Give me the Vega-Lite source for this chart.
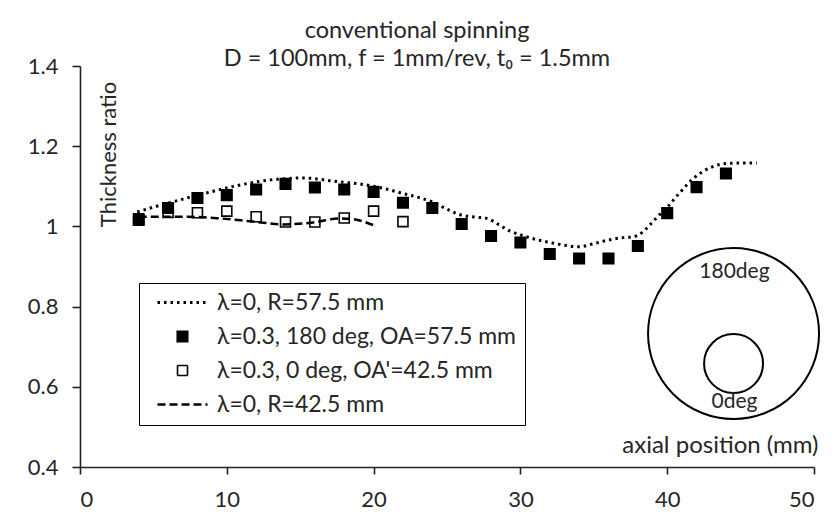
{
  "$schema": "https://vega.github.io/schema/vega-lite/v6.json",
  "width": 734,
  "height": 401,
  "autosize": {"type": "none"},
  "padding": {"left": 80, "top": 66, "right": 26, "bottom": 49},
  "background": "white",
  "config": {
    "view": {"stroke": null},
    "font": "Lato",
    "axis": {
      "grid": false,
      "domainColor": "#222222",
      "domainWidth": 1.6,
      "tickColor": "#222222",
      "tickWidth": 1.6,
      "tickSize": 7,
      "labelFont": "Lato",
      "labelFontSize": 22,
      "labelColor": "#262626",
      "titleFont": "Lato",
      "titleFontSize": 22,
      "titleFontWeight": "normal",
      "titleColor": "#262626"
    }
  },
  "title": {
    "text": "conventional spinning",
    "subtitle": "D = 100mm, f = 1mm/rev, t₀ = 1.5mm",
    "anchor": "middle",
    "dx": -30,
    "offset": -15,
    "font": "Lato",
    "fontSize": 23.5,
    "fontWeight": "normal",
    "color": "#262626",
    "subtitleFont": "Lato",
    "subtitleFontSize": 23.5,
    "subtitleColor": "#262626",
    "subtitlePadding": 4
  },
  "datasets": {
    "main": [
      {"series": "λ=0.3, 0 deg, OA'=42.5 mm", "x": 4, "y": 1.019},
      {"series": "λ=0.3, 0 deg, OA'=42.5 mm", "x": 6, "y": 1.035},
      {"series": "λ=0.3, 0 deg, OA'=42.5 mm", "x": 8, "y": 1.034},
      {"series": "λ=0.3, 0 deg, OA'=42.5 mm", "x": 10, "y": 1.038},
      {"series": "λ=0.3, 0 deg, OA'=42.5 mm", "x": 12, "y": 1.024},
      {"series": "λ=0.3, 0 deg, OA'=42.5 mm", "x": 14, "y": 1.011},
      {"series": "λ=0.3, 0 deg, OA'=42.5 mm", "x": 16, "y": 1.011},
      {"series": "λ=0.3, 0 deg, OA'=42.5 mm", "x": 18, "y": 1.021},
      {"series": "λ=0.3, 0 deg, OA'=42.5 mm", "x": 20, "y": 1.038},
      {"series": "λ=0.3, 0 deg, OA'=42.5 mm", "x": 22, "y": 1.012},
      {"series": "λ=0.3, 180 deg, OA=57.5 mm", "x": 4, "y": 1.016},
      {"series": "λ=0.3, 180 deg, OA=57.5 mm", "x": 6, "y": 1.046},
      {"series": "λ=0.3, 180 deg, OA=57.5 mm", "x": 8, "y": 1.071},
      {"series": "λ=0.3, 180 deg, OA=57.5 mm", "x": 10, "y": 1.078},
      {"series": "λ=0.3, 180 deg, OA=57.5 mm", "x": 12, "y": 1.092},
      {"series": "λ=0.3, 180 deg, OA=57.5 mm", "x": 14, "y": 1.106},
      {"series": "λ=0.3, 180 deg, OA=57.5 mm", "x": 16, "y": 1.097},
      {"series": "λ=0.3, 180 deg, OA=57.5 mm", "x": 18, "y": 1.092},
      {"series": "λ=0.3, 180 deg, OA=57.5 mm", "x": 20, "y": 1.086},
      {"series": "λ=0.3, 180 deg, OA=57.5 mm", "x": 22, "y": 1.059},
      {"series": "λ=0.3, 180 deg, OA=57.5 mm", "x": 24, "y": 1.046},
      {"series": "λ=0.3, 180 deg, OA=57.5 mm", "x": 26, "y": 1.006},
      {"series": "λ=0.3, 180 deg, OA=57.5 mm", "x": 28, "y": 0.976},
      {"series": "λ=0.3, 180 deg, OA=57.5 mm", "x": 30, "y": 0.960},
      {"series": "λ=0.3, 180 deg, OA=57.5 mm", "x": 32, "y": 0.931},
      {"series": "λ=0.3, 180 deg, OA=57.5 mm", "x": 34, "y": 0.920},
      {"series": "λ=0.3, 180 deg, OA=57.5 mm", "x": 36, "y": 0.920},
      {"series": "λ=0.3, 180 deg, OA=57.5 mm", "x": 38, "y": 0.951},
      {"series": "λ=0.3, 180 deg, OA=57.5 mm", "x": 40, "y": 1.033},
      {"series": "λ=0.3, 180 deg, OA=57.5 mm", "x": 42, "y": 1.098},
      {"series": "λ=0.3, 180 deg, OA=57.5 mm", "x": 44, "y": 1.132},
      {"series": "λ=0, R=57.5 mm", "x": 3.9, "y": 1.036},
      {"series": "λ=0, R=57.5 mm", "x": 5.0, "y": 1.048},
      {"series": "λ=0, R=57.5 mm", "x": 5.9, "y": 1.057},
      {"series": "λ=0, R=57.5 mm", "x": 7.0, "y": 1.068},
      {"series": "λ=0, R=57.5 mm", "x": 8.0, "y": 1.078},
      {"series": "λ=0, R=57.5 mm", "x": 9.0, "y": 1.087},
      {"series": "λ=0, R=57.5 mm", "x": 10.0, "y": 1.096},
      {"series": "λ=0, R=57.5 mm", "x": 11.0, "y": 1.104},
      {"series": "λ=0, R=57.5 mm", "x": 12.0, "y": 1.111},
      {"series": "λ=0, R=57.5 mm", "x": 13.0, "y": 1.116},
      {"series": "λ=0, R=57.5 mm", "x": 14.0, "y": 1.119},
      {"series": "λ=0, R=57.5 mm", "x": 15.0, "y": 1.121},
      {"series": "λ=0, R=57.5 mm", "x": 16.0, "y": 1.119},
      {"series": "λ=0, R=57.5 mm", "x": 17.0, "y": 1.114},
      {"series": "λ=0, R=57.5 mm", "x": 18.0, "y": 1.110},
      {"series": "λ=0, R=57.5 mm", "x": 19.0, "y": 1.106},
      {"series": "λ=0, R=57.5 mm", "x": 20.0, "y": 1.100},
      {"series": "λ=0, R=57.5 mm", "x": 21.0, "y": 1.092},
      {"series": "λ=0, R=57.5 mm", "x": 22.0, "y": 1.082},
      {"series": "λ=0, R=57.5 mm", "x": 23.0, "y": 1.073},
      {"series": "λ=0, R=57.5 mm", "x": 24.0, "y": 1.061},
      {"series": "λ=0, R=57.5 mm", "x": 25.0, "y": 1.043},
      {"series": "λ=0, R=57.5 mm", "x": 26.0, "y": 1.028},
      {"series": "λ=0, R=57.5 mm", "x": 27.0, "y": 1.023},
      {"series": "λ=0, R=57.5 mm", "x": 27.7, "y": 1.020},
      {"series": "λ=0, R=57.5 mm", "x": 28.5, "y": 1.005},
      {"series": "λ=0, R=57.5 mm", "x": 29.2, "y": 0.990},
      {"series": "λ=0, R=57.5 mm", "x": 30.0, "y": 0.979},
      {"series": "λ=0, R=57.5 mm", "x": 31.0, "y": 0.968},
      {"series": "λ=0, R=57.5 mm", "x": 32.0, "y": 0.960},
      {"series": "λ=0, R=57.5 mm", "x": 33.0, "y": 0.953},
      {"series": "λ=0, R=57.5 mm", "x": 34.0, "y": 0.949},
      {"series": "λ=0, R=57.5 mm", "x": 35.0, "y": 0.957},
      {"series": "λ=0, R=57.5 mm", "x": 36.0, "y": 0.966},
      {"series": "λ=0, R=57.5 mm", "x": 37.0, "y": 0.972},
      {"series": "λ=0, R=57.5 mm", "x": 37.7, "y": 0.974},
      {"series": "λ=0, R=57.5 mm", "x": 38.3, "y": 0.985},
      {"series": "λ=0, R=57.5 mm", "x": 38.8, "y": 1.003},
      {"series": "λ=0, R=57.5 mm", "x": 39.5, "y": 1.030},
      {"series": "λ=0, R=57.5 mm", "x": 40.0, "y": 1.048},
      {"series": "λ=0, R=57.5 mm", "x": 40.9, "y": 1.086},
      {"series": "λ=0, R=57.5 mm", "x": 41.8, "y": 1.120},
      {"series": "λ=0, R=57.5 mm", "x": 42.9, "y": 1.146},
      {"series": "λ=0, R=57.5 mm", "x": 44.1, "y": 1.157},
      {"series": "λ=0, R=57.5 mm", "x": 45.2, "y": 1.158},
      {"series": "λ=0, R=57.5 mm", "x": 46.1, "y": 1.158},
      {"series": "λ=0, R=42.5 mm", "x": 4.0, "y": 1.024},
      {"series": "λ=0, R=42.5 mm", "x": 6.0, "y": 1.024},
      {"series": "λ=0, R=42.5 mm", "x": 7.3, "y": 1.024},
      {"series": "λ=0, R=42.5 mm", "x": 9.5, "y": 1.020},
      {"series": "λ=0, R=42.5 mm", "x": 11.8, "y": 1.012},
      {"series": "λ=0, R=42.5 mm", "x": 13.9, "y": 1.005},
      {"series": "λ=0, R=42.5 mm", "x": 15.9, "y": 1.010},
      {"series": "λ=0, R=42.5 mm", "x": 17.7, "y": 1.020},
      {"series": "λ=0, R=42.5 mm", "x": 18.6, "y": 1.018},
      {"series": "λ=0, R=42.5 mm", "x": 20.0, "y": 1.003}
    ],
    "circles": [
      {"part": "outer", "x": 44.52, "y": 0.733},
      {"part": "inner", "x": 44.52, "y": 0.658}
    ],
    "labels": [
      {"label": "180deg", "x": 44.58, "y": 0.871},
      {"label": "0deg", "x": 44.58, "y": 0.547}
    ]
  },
  "data": {"name": "main"},
  "encoding": {
    "x": {
      "field": "x",
      "type": "quantitative",
      "scale": {"domain": [0, 50], "nice": false, "zero": false},
      "axis": {
        "values": [0, 10, 20, 30, 40, 50],
        "labelPadding": 15,
        "title": "axial position (mm)",
        "titleFontSize": 24,
        "titleX": 738,
        "titleY": -15,
        "titleAlign": "right",
        "titleAnchor": null,
        "titleBaseline": "alphabetic"
      }
    },
    "y": {
      "field": "y",
      "type": "quantitative",
      "scale": {"domain": [0.4, 1.4], "nice": false, "zero": false},
      "axis": {
        "values": [0.4, 0.6, 0.8, 1.0, 1.2, 1.4],
        "format": "~g",
        "tickSize": 8,
        "labelPadding": 14,
        "title": "Thickness ratio",
        "titleX": 35,
        "titleY": 88,
        "titleAngle": 270,
        "titleAlign": "center",
        "titleAnchor": null,
        "titleBaseline": "alphabetic"
      }
    }
  },
  "layer": [
    {
      "transform": [{"filter": {"field": "series", "oneOf": ["λ=0.3, 180 deg, OA=57.5 mm", "λ=0.3, 0 deg, OA'=42.5 mm"]}}],
      "mark": {"type": "point", "filled": true, "stroke": "black", "strokeWidth": 1.6, "opacity": 1},
      "encoding": {
        "fill": {
          "field": "series",
          "type": "nominal",
          "scale": {"domain": ["λ=0, R=57.5 mm", "λ=0.3, 180 deg, OA=57.5 mm", "λ=0.3, 0 deg, OA'=42.5 mm", "λ=0, R=42.5 mm"], "range": ["black", "black", "white", "black"]},
          "legend": {}
        },
        "size": {
          "field": "series",
          "type": "nominal",
          "scale": {"type": "ordinal", "domain": ["λ=0, R=57.5 mm", "λ=0.3, 180 deg, OA=57.5 mm", "λ=0.3, 0 deg, OA'=42.5 mm", "λ=0, R=42.5 mm"], "range": [2500, 110, 100, 2500]},
          "legend": {}
        },
        "shape": {
          "field": "series",
          "type": "nominal",
          "scale": {"domain": ["λ=0, R=57.5 mm", "λ=0.3, 180 deg, OA=57.5 mm", "λ=0.3, 0 deg, OA'=42.5 mm", "λ=0, R=42.5 mm"], "range": ["stroke", "square", "square", "stroke"]},
          "legend": {
            "title": null,
            "orient": "none",
            "legendX": 59,
            "legendY": 217,
            "padding": 8,
            "strokeColor": "black",
            "fillColor": "white",
            "labelFont": "Lato",
            "labelFontSize": 23,
            "labelColor": "#262626",
            "labelLimit": 0,
            "labelOffset": 8,
            "symbolOffset": 9,
            "symbolStrokeColor": "black",
            "clipHeight": 23,
            "rowPadding": 10
          }
        }
      }
    },
    {
      "transform": [{"filter": {"field": "series", "oneOf": ["λ=0, R=57.5 mm", "λ=0, R=42.5 mm"]}}],
      "mark": {"type": "line", "color": "black", "interpolate": "monotone"},
      "encoding": {
        "strokeDash": {
          "field": "series",
          "type": "nominal",
          "scale": {"domain": ["λ=0, R=57.5 mm", "λ=0.3, 180 deg, OA=57.5 mm", "λ=0.3, 0 deg, OA'=42.5 mm", "λ=0, R=42.5 mm"], "range": [[2.5, 4], [1, 0], [1, 0], [8, 4]]},
          "legend": {}
        },
        "strokeWidth": {
          "field": "series",
          "type": "nominal",
          "scale": {"type": "ordinal", "domain": ["λ=0, R=57.5 mm", "λ=0.3, 180 deg, OA=57.5 mm", "λ=0.3, 0 deg, OA'=42.5 mm", "λ=0, R=42.5 mm"], "range": [3, 1.6, 1.6, 2.5]},
          "legend": {}
        }
      }
    },
    {
      "data": {"name": "circles"},
      "transform": [{"filter": "datum.part == 'outer'"}],
      "mark": {"type": "point", "shape": "circle", "filled": false, "color": "black", "size": 29241, "strokeWidth": 2, "opacity": 1},
      "encoding": {}
    },
    {
      "data": {"name": "circles"},
      "transform": [{"filter": "datum.part == 'inner'"}],
      "mark": {"type": "point", "shape": "circle", "filled": false, "color": "black", "size": 3481, "strokeWidth": 2, "opacity": 1},
      "encoding": {}
    },
    {
      "data": {"name": "labels"},
      "mark": {"type": "text", "font": "Lato", "fontSize": 21, "color": "#262626", "align": "center", "baseline": "alphabetic"},
      "encoding": {"text": {"field": "label", "type": "nominal"}}
    }
  ]
}
